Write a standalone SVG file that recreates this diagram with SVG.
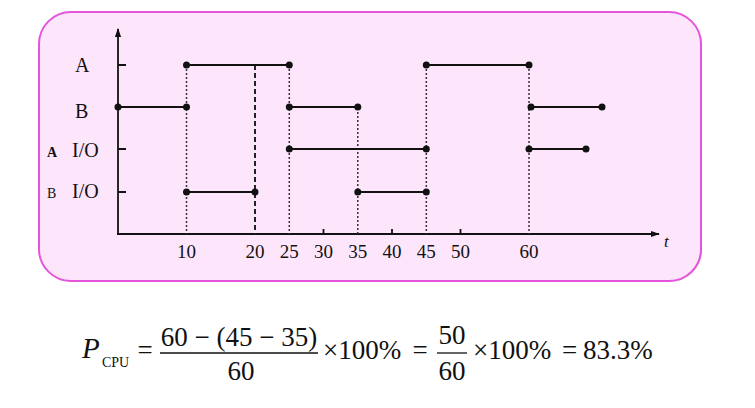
<svg xmlns="http://www.w3.org/2000/svg" width="755" height="408" viewBox="0 0 755 408">
<defs>
<style>
text{font-family:"Liberation Serif","Times New Roman",serif;fill:#111}
.seg{stroke:#111;stroke-width:2;fill:none}
.ax{stroke:#111;stroke-width:1.8;fill:none}
.dot{stroke:#333;stroke-width:1.5;stroke-dasharray:2 2;fill:none}
.dash{stroke:#222;stroke-width:2;stroke-dasharray:5 3;fill:none}
.pt{fill:#111}
</style>
<marker id="arr" viewBox="0 0 10 10" refX="9" refY="5" markerWidth="9" markerHeight="9" markerUnits="userSpaceOnUse" orient="auto">
<path d="M0,1.5 L10,5 L0,8.5 Z" fill="#111"/>
</marker>
</defs>
<rect width="755" height="408" fill="#ffffff"/>
<g id="panel">
<rect x="40" y="13" width="662" height="269" rx="32" ry="32" fill="#a890a0" opacity="0.5"/>
<rect x="39" y="12" width="662" height="269" rx="32" ry="32" fill="#fde6fb" stroke="#e455dc" stroke-width="2"/>
</g>
<g id="axes">
<line class="ax" x1="118" y1="234" x2="118" y2="29" marker-end="url(#arr)"/>
<line class="ax" x1="117" y1="234" x2="659" y2="234" marker-end="url(#arr)"/>
<path class="ax" d="M118,65 H126 M118,149 H126 M118,192 H126 M323.5,234 V229 M392,234 V229 M460.5,234 V229"/>
</g>
<g id="connectors">
<line class="dot" x1="186.5" y1="65" x2="186.5" y2="234"/>
<line class="dash" x1="255" y1="65" x2="255" y2="234"/>
<line class="dot" x1="289.3" y1="65" x2="289.3" y2="234"/>
<line class="dot" x1="357.8" y1="108" x2="357.8" y2="234"/>
<line class="dot" x1="426.3" y1="65" x2="426.3" y2="234"/>
<line class="dot" x1="529" y1="65" x2="529" y2="234"/>
</g>
<g id="row-A">
<line class="seg" x1="186.5" y1="65" x2="289.3" y2="65"/>
<line class="seg" x1="426.3" y1="65" x2="529" y2="65"/>
<circle class="pt" cx="186.5" cy="65" r="3.5"/><circle class="pt" cx="289.3" cy="65" r="3.5"/>
<circle class="pt" cx="426.3" cy="65" r="3.5"/><circle class="pt" cx="529" cy="65" r="3.5"/>
</g>
<g id="row-B">
<line class="seg" x1="118" y1="107" x2="186.5" y2="107"/>
<line class="seg" x1="289.3" y1="107" x2="357.8" y2="107"/>
<line class="seg" x1="531" y1="107" x2="602" y2="107"/>
<circle class="pt" cx="118" cy="107" r="3.5"/><circle class="pt" cx="186.5" cy="107" r="3.5"/>
<circle class="pt" cx="289.3" cy="107" r="3.5"/><circle class="pt" cx="357.8" cy="107" r="3.5"/>
<circle class="pt" cx="531" cy="107" r="3.5"/><circle class="pt" cx="602" cy="107" r="3.5"/>
</g>
<g id="row-AIO">
<line class="seg" x1="289.3" y1="149" x2="426.3" y2="149"/>
<line class="seg" x1="529" y1="149" x2="586" y2="149"/>
<circle class="pt" cx="289.3" cy="149" r="3.5"/><circle class="pt" cx="426.3" cy="149" r="3.5"/>
<circle class="pt" cx="529" cy="149" r="3.5"/><circle class="pt" cx="586" cy="149" r="3.5"/>
</g>
<g id="row-BIO">
<line class="seg" x1="186.5" y1="192" x2="255" y2="192"/>
<line class="seg" x1="357.8" y1="192" x2="426.3" y2="192"/>
<circle class="pt" cx="186.5" cy="192" r="3.5"/><circle class="pt" cx="255" cy="192" r="3.5"/>
<circle class="pt" cx="357.8" cy="192" r="3.5"/><circle class="pt" cx="426.3" cy="192" r="3.5"/>
</g>
<g id="labels">
<text x="75" y="72" font-size="20">A</text>
<text x="75" y="118" font-size="20">B</text>
<text x="47" y="157" font-size="14" font-weight="bold">A</text>
<text x="72" y="157" font-size="20">I/O</text>
<text x="47" y="198" font-size="14">B</text>
<text x="72" y="198" font-size="20">I/O</text>
</g>
<g id="ticklabels" font-size="19" text-anchor="middle">
<text x="186.5" y="258">10</text>
<text x="255" y="258">20</text>
<text x="289.3" y="258">25</text>
<text x="323.5" y="258">30</text>
<text x="357.8" y="258">35</text>
<text x="392" y="258">40</text>
<text x="426.3" y="258">45</text>
<text x="460.5" y="258">50</text>
<text x="529" y="258">60</text>
<text x="664" y="247" font-size="17" font-style="italic" text-anchor="start">t</text>
</g>
<g id="formula" font-size="27">
<text x="82" y="358" font-style="italic" font-size="29">P</text>
<text x="102" y="367" font-size="14">CPU</text>
<text x="145" y="359" text-anchor="middle">=</text>
<text x="239" y="346" text-anchor="middle">60 − (45 − 35)</text>
<line x1="160" y1="353" x2="318" y2="353" stroke="#111" stroke-width="1.3"/>
<text x="241" y="380" text-anchor="middle">60</text>
<text x="323" y="359">×100%</text>
<text x="420" y="359" text-anchor="middle">=</text>
<text x="452" y="344" text-anchor="middle">50</text>
<line x1="437" y1="353" x2="467" y2="353" stroke="#111" stroke-width="1.3"/>
<text x="452" y="380" text-anchor="middle">60</text>
<text x="473" y="359">×100%</text>
<text x="569.5" y="359" text-anchor="middle">=</text>
<text x="583" y="359">83.3%</text>
</g>
</svg>
